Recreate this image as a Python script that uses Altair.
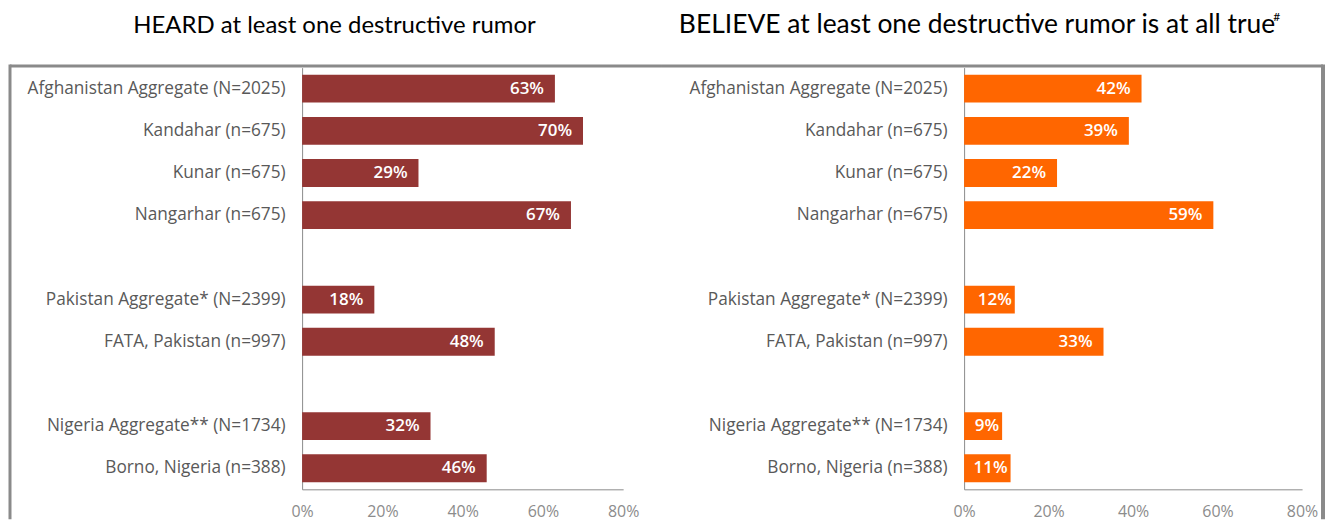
import altair as alt
import pandas as pd

categories = ["Afghanistan Aggregate (N=2025)", "Kandahar (n=675)", "Kunar (n=675)",
              "Nangarhar (n=675)", "Pakistan Aggregate* (N=2399)", "FATA, Pakistan (n=997)",
              "Nigeria Aggregate** (N=1734)", "Borno, Nigeria (n=388)"]
slot_order = ["Afghanistan Aggregate (N=2025)", "Kandahar (n=675)", "Kunar (n=675)",
              "Nangarhar (n=675)", " ", "Pakistan Aggregate* (N=2399)", "FATA, Pakistan (n=997)",
              "  ", "Nigeria Aggregate** (N=1734)", "Borno, Nigeria (n=388)"]
heard = [0.63, 0.70, 0.29, 0.67, 0.18, 0.48, 0.32, 0.46]
believe = [0.42, 0.39, 0.22, 0.59, 0.12, 0.33, 0.09, 0.11]
tick_values = [0, 0.2, 0.4, 0.6, 0.8]

title_left = "HEARD at least one destructive rumor"
title_right = "BELIEVE at least one destructive rumor is at all true"
title_right_mark = "#"

BORDER = "#8a8a8a"
H = 423


def panel(values, color, title, title_size, title_x, width, left_edge, right_edge, left_side):
    df = pd.DataFrame({"cat": categories, "v": values})
    y = alt.Y("cat:N", sort=None,
              scale=alt.Scale(domain=slot_order, paddingInner=0.34, paddingOuter=0.17),
              axis=alt.Axis(title=None, ticks=False, labelFontSize=17.3, labelColor="#595959",
                            labelFont="Open Sans", labelFontWeight="normal", domainColor="#8c8c8c",
                            labelPadding=17, minExtent=295, maxExtent=295, labelLimit=300))
    x = alt.X("v:Q", scale=alt.Scale(domain=[0, 0.8], nice=False),
              axis=alt.Axis(title=None, values=tick_values, format=".0%", ticks=False, grid=False,
                            labelFontSize=16, labelColor="#8c8c8c", labelFont="Open Sans",
                            labelFlush=False, domainColor="#8c8c8c", labelPadding=14))
    base = alt.Chart(df)
    bars = base.mark_bar(color=color).encode(x=x, y=y)
    text_enc = dict(x="v:Q", y=alt.Y("cat:N", sort=None), text=alt.Text("v:Q", format=".0%"))
    labels_big = base.transform_filter("datum.v >= 0.15").mark_text(
        align="right", dx=-11, color="white", fontSize=17, font="Open Sans",
        fontWeight=600).encode(**text_enc)
    labels_small = base.transform_filter("datum.v < 0.15").mark_text(
        align="right", dx=-3, color="white", fontSize=17, font="Open Sans",
        fontWeight=600).encode(**text_enc)
    one = alt.Chart(pd.DataFrame({"k": [0]}))
    top_rule = one.mark_rule(color=BORDER, strokeWidth=3).encode(
        x=alt.value(left_edge), x2=alt.value(right_edge), y=alt.value(-1.5))
    spacer = one.mark_rule(strokeOpacity=0, strokeWidth=1).encode(
        x=alt.value(0), x2=alt.value(10), y=alt.value(-59))
    head = one.mark_text(text=title, font="Lato", fontSize=title_size, align="center",
                         baseline="alphabetic", color="black").encode(
        x=alt.value(title_x), y=alt.value(-35))
    layers = [bars, labels_big, labels_small, top_rule, spacer, head]
    if left_side:
        side = one.mark_rule(color=BORDER, strokeWidth=3).encode(
            x=alt.value(left_edge), y=alt.value(-3), y2=alt.value(H + 30))
    else:
        side = one.mark_rule(color=BORDER, strokeWidth=4).encode(
            x=alt.value(right_edge), y=alt.value(-3), y2=alt.value(H + 30))
        sup = one.mark_text(text=title_right_mark, font="Lato", fontSize=12, align="left",
                            baseline="alphabetic", color="black").encode(
            x=alt.value(310), y=alt.value(-47))
        layers.append(sup)
    layers.append(side)
    return alt.layer(*layers).properties(width=width, height=H)


left = panel(heard, "#943634", title_left, 24, 32.5, 322, -293, 360, True)
right = panel(believe, "#FF6600", title_right, 26.5, 13, 339, -304, 360, False)

chart = alt.hconcat(left, right, spacing=-4).properties(padding=0).configure_view(
    stroke=None)

chart.save("out.html", embed_options={"renderer": "svg", "actions": False})
